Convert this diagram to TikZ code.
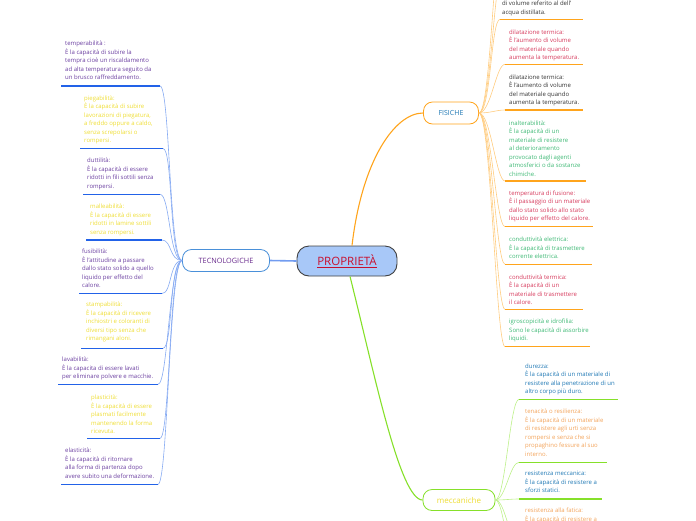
\documentclass[tikz,border=0pt]{standalone}
\usepackage{fontspec}
\setmainfont{Open Sans}
\definecolor{purp}{HTML}{6B3FA0}
\definecolor{yel}{HTML}{EEDD33}
\definecolor{crim}{HTML}{D63A5C}
\definecolor{grn}{HTML}{3DB874}
\definecolor{blk}{HTML}{333333}
\definecolor{bluetx}{HTML}{1F78B4}
\definecolor{orgtx}{HTML}{F2A35A}
\definecolor{blueul}{HTML}{2262E8}
\definecolor{bluecv}{HTML}{86AAF2}
\definecolor{orgul}{HTML}{FFA41C}
\definecolor{orgcv}{HTML}{FFCC80}
\definecolor{grnul}{HTML}{86E02A}
\definecolor{grncv}{HTML}{BDF08A}
\definecolor{propfill}{HTML}{A8C8F8}
\definecolor{proptx}{HTML}{C8102E}
\definecolor{tecbd}{HTML}{4A90D9}
\definecolor{tectx}{HTML}{6A2C8E}
\begin{document}
\begin{tikzpicture}[x=1pt,y=-1pt,
  leaftext/.style={font=\fontsize{6}{8.5}\selectfont, align=left, inner sep=0pt, anchor=north west},
  ulblue/.style={draw=blueul, line width=1.1pt},
  cvblue/.style={draw=bluecv, line width=0.6pt},
  ulorg/.style={draw=orgul, line width=1.1pt},
  cvorg/.style={draw=orgcv, line width=0.6pt},
  ulgrn/.style={draw=grnul, line width=1.1pt},
  cvgrn/.style={draw=grncv, line width=0.6pt},
  topic/.style={draw, rounded corners=9pt, fill=white, line width=0.8pt, inner sep=0pt}]
\useasboundingbox (0,0) rectangle (696,520);
\clip (0,0) rectangle (696,520);

% main nodes
\node[draw=black!75, fill=propfill, rounded corners=12pt, line width=0.9pt,
  minimum width=100pt, minimum height=30pt, inner sep=0pt,
  font=\fontsize{11.5}{13}\selectfont, text=proptx] (prop) at (347,261) {\underline{PROPRIETÀ}};
\node[topic, draw=tecbd, minimum width=87pt, minimum height=22pt,
  font=\fontsize{7.3}{9}\selectfont, text=tectx] (tec) at (226,260.5) {TECNOLOGICHE};
\node[topic, draw=orgul, minimum width=55pt, minimum height=22pt,
  font=\fontsize{7}{9}\selectfont, text=bluetx] (fis) at (451,113) {FISICHE};
\node[topic, draw=grnul, minimum width=72pt, minimum height=21pt,
  font=\fontsize{8}{10}\selectfont, text=yel] (mec) at (459,500) {meccaniche};

% main connectors
\draw[draw=bluecv!80!blueul, line width=1.6pt] (tec.east) -- (prop.west);
\draw[draw=orgul, line width=1.1pt] ([xshift=5pt]prop.north) .. controls (362,160) and (395,113) .. (fis.west);
\draw[draw=grnul, line width=1.1pt] ([xshift=3pt]prop.south) .. controls (375,376) and (400,500) .. (mec.west);

% left leaves: name, textx, first line y, underline y, xl, xr, color, text
\newcommand\lleaf[8]{%
  \node[leaftext, text=#7] (#1) at (#2,#3-3) {#8};
  \coordinate (#1L) at (#5,#4);
  \coordinate (#1R) at (#6,#4);
  \draw[cvblue] (tec.west) .. controls +(-13,0) and +(10,0) .. (#1R);
  \draw[ulblue] (#1R) -- (#1L);
}
\lleaf{temp}{65}{44}{86}{61}{160}{purp}{temperabilità :\\È la capacità di subire la\\tempra cioè un riscaldamento\\ad alta temperatura seguito da\\un brusco raffreddamento.}
\lleaf{pieg}{84}{98.3}{148.5}{80}{163}{yel}{piegabilità:\\È la capacità di subire\\lavorazioni di piegatura,\\a freddo oppure a caldo,\\senza screpolarsi o\\rompersi.}
\lleaf{dutt}{87}{160.7}{194.3}{83}{160}{purp}{duttilità:\\È la capacità di essere\\ridotti in fili sottili senza\\rompersi.}
\lleaf{mall}{90}{206.7}{240}{86}{162}{yel}{malleabilità:\\È la capacità di essere\\ridotti in lamine sottili\\senza rompersi.}
\lleaf{fusi}{82}{251.7}{293.5}{79}{162}{purp}{fusibilità:\\È l'attitudine a passare\\dallo stato solido a quello\\liquido per effetto del\\calore.}
\lleaf{stam}{86}{305}{348.3}{81}{163}{yel}{stampabilità:\\È la capacità di ricevere\\inchiostri e coloranti di\\diversi tipo senza che\\rimangani aloni.}
\lleaf{lava}{62}{360}{384.3}{58}{158}{purp}{lavabilità:\\È la capacita di essere lavati\\per eliminare polvere e macchie.}
\lleaf{plas}{91}{397.7}{438.3}{87}{160}{yel}{plasticità:\\È la capacità di essere\\plasmati facilmente\\mantenendo la forma\\ricevuta.}
\lleaf{elas}{65}{451}{484.3}{61}{158}{purp}{elasticità:\\È la capacità di ritornare\\alla forma di partenza dopo\\avere subito una deformazione.}

% right leaves of FISICHE: name, textx, first line y, underline y, xl, xr, color, text
\newcommand\fleaf[8]{%
  \node[leaftext, text=#7] (#1) at (#2,#3-3) {#8};
  \coordinate (#1L) at (#5,#4);
  \coordinate (#1R) at (#6,#4);
  \draw[cvorg] (fis.east) .. controls +(12,0) and +(-9,0) .. (#1L);
  \draw[ulorg] (#1L) -- (#1R);
}
\coordinate (fisup1) at (503,-30);
\coordinate (fisup2) at (503,-70);
\draw[cvorg] (fis.east) .. controls +(12,0) and +(-9,0) .. (fisup1);
\draw[cvorg] (fis.east) .. controls +(12,0) and +(-9,0) .. (fisup2);
\fleaf{psp}{502}{4}{19.3}{500}{583}{blk}{di volume referito al dell'\\acqua distillata.}
\fleaf{dil}{509}{32.3}{64.3}{505}{583}{crim}{dilatazione termica:\\È l'aumento di volume\\del materiale quando\\aumenta la temperatura.}
\fleaf{dilb}{509}{77.7}{110}{505}{583}{blk}{dilatazione termica:\\È l'aumento di volume\\del materiale quando\\aumenta la temperatura.}
\fleaf{inal}{509}{123.3}{181}{505}{586}{grn}{inalterabilità:\\È la capacità di un\\materiale di resistere\\al deterioramento\\provocato dagli agenti\\atmosferici o da sostanze\\chimiche.}
\fleaf{tfus}{509}{193.3}{226.7}{505}{593}{crim}{temperatura di fusione:\\È il passaggio di un materiale\\dallo stato solido allo stato\\liquido per effetto del calore.}
\fleaf{cel}{509}{240}{264.3}{505}{592}{grn}{conduttività elettrica:\\È la capacità di trasmettere\\corrente elettrica.}
\fleaf{cter}{509}{277.3}{309.3}{505}{583}{crim}{conduttività termica:\\È la capacità di un\\materiale di trasmettere\\il calore.}
\fleaf{igro}{509}{321.7}{346.7}{505}{590}{grn}{igroscopicità e idrofilia:\\Sono le capacità di assorbire\\liquidi.}

% right leaves of meccaniche
\newcommand\mleaf[8]{%
  \node[leaftext, text=#7] (#1) at (#2,#3-3) {#8};
  \coordinate (#1L) at (#5,#4);
  \coordinate (#1R) at (#6,#4);
  \draw[cvgrn] (mec.east) .. controls +(10,0) and +(-9,0) .. (#1L);
  \draw[ulgrn] (#1L) -- (#1R);
}
\mleaf{dur}{525}{366.7}{399.3}{519}{618}{bluetx}{durezza:\\È la capacità di un materiale di\\resistere alla penetrazione di un\\altro corpo più duro.}
\mleaf{ten}{525}{411.7}{462.3}{519}{607}{orgtx}{tenacità o resilienza:\\È la capacità di un materiale\\di resistere agli urti senza\\rompersi e senza che si\\propaghino fessure al suo\\interno.}
\mleaf{resm}{525}{474}{499}{519}{602}{bluetx}{resistenza meccanica:\\È la capacità di resistere a\\sforzi statici.}
\mleaf{resf}{525}{511}{545}{519}{605}{orgtx}{resistenza alla fatica:\\È la capacità di resistere a}
\coordinate (mecdown) at (519,590);
\draw[cvgrn] (mec.east) .. controls +(10,0) and +(-9,0) .. (mecdown);
\end{tikzpicture}
\end{document}
